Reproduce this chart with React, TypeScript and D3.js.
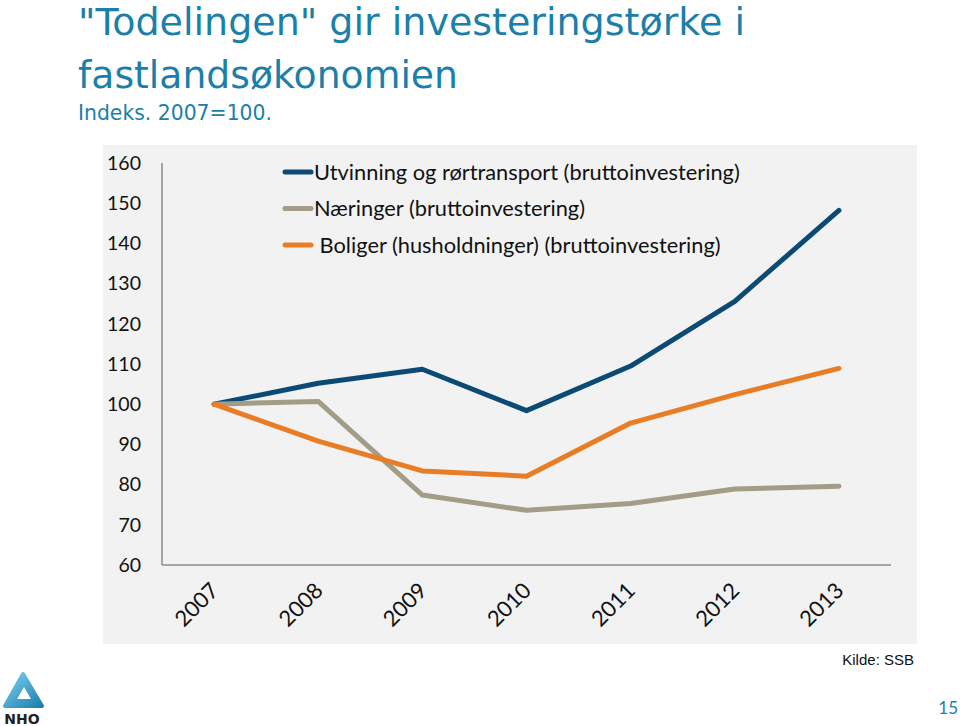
import * as React from "react";
import * as d3 from "d3";

const years = ["2007", "2008", "2009", "2010", "2011", "2012", "2013"];
const utvinning = [100, 105.2, 108.7, 98.4, 109.5, 125.6, 148.2];
const naeringer = [100, 100.7, 77.4, 73.6, 75.3, 78.9, 79.6];
const boliger = [100, 90.8, 83.4, 82.1, 95.3, 102.4, 108.9];
const yTicks = [60, 70, 80, 90, 100, 110, 120, 130, 140, 150, 160];

const seriesNames = [
  "Utvinning og rørtransport (bruttoinvestering)",
  "Næringer (bruttoinvestering)",
  " Boliger (husholdninger) (bruttoinvestering)",
];
const seriesColors = ["#0b4a74", "#a39c87", "#e87d25"];

const W = 960;
const H = 726;
const plotLeft = 162;
const plotRight = 891;
const plotTop = 163;
const plotBottom = 565;
const labelFont = "Lato, 'Noto Sans', sans-serif";

const App: React.FC = () => {
  const x = d3.scaleBand().domain(years).range([plotLeft, plotRight]).padding(0);
  const y = d3.scaleLinear().domain([60, 160]).range([plotBottom, plotTop]);
  const cx = (yr: string) => (x(yr) as number) + x.bandwidth() / 2;

  const line = d3
    .line<number>()
    .x((_, i) => cx(years[i]))
    .y((d) => y(d));

  const allSeries = [utvinning, naeringer, boliger];

  return (
    <svg
      width={W}
      height={H}
      style={{ position: "absolute", left: 0, top: 0, background: "#fff" }}
    >
      {/* title */}
      <g fill="#1b7fa9" fontFamily="Tahoma, 'DejaVu Sans', sans-serif">
        <text x={78} y={35} fontSize={37} textLength={667} lengthAdjust="spacingAndGlyphs">
          "Todelingen" gir investeringstørke i
        </text>
        <text x={78} y={88} fontSize={37} textLength={380} lengthAdjust="spacingAndGlyphs">
          fastlandsøkonomien
        </text>
        <text x={78} y={120} fontSize={21} textLength={194} lengthAdjust="spacingAndGlyphs">
          Indeks. 2007=100.
        </text>
      </g>

      {/* chart background */}
      <rect x={103} y={145} width={814} height={499} fill="#f2f2f2" />

      {/* axes */}
      <line x1={plotLeft} x2={plotLeft} y1={plotTop} y2={plotBottom} stroke="#8c8c8c" strokeWidth={1.5} />
      <line x1={plotLeft} x2={plotRight} y1={plotBottom} y2={plotBottom} stroke="#8c8c8c" strokeWidth={1.5} />

      {yTicks.map((t) => (
        <text
          key={t}
          x={141}
          y={y(t)}
          dy="0.35em"
          textAnchor="end"
          fontSize={19.5}
          fontFamily={labelFont}
          fill="#111"
        >
          {t}
        </text>
      ))}

      {years.map((yr) => (
        <text
          key={yr}
          transform={`translate(${cx(yr) + 6},${plotBottom + 27}) rotate(-45)`}
          textAnchor="end"
          fontSize={22}
          fontFamily={labelFont}
          fill="#111"
        >
          {yr}
        </text>
      ))}

      {/* series */}
      {allSeries.map((s, i) => (
        <path
          key={i}
          d={line(s) as string}
          fill="none"
          stroke={seriesColors[i]}
          strokeWidth={5}
          strokeLinejoin="round"
          strokeLinecap="round"
        />
      ))}

      {/* legend */}
      {seriesNames.map((name, i) => (
        <g key={name} transform={`translate(0,${172 + i * 36.5})`}>
          <line x1={285} x2={311} y1={0} y2={0} stroke={seriesColors[i]} strokeWidth={5} strokeLinecap="round" />
          <text
            x={314}
            y={0}
            dy="0.35em"
            fontSize={21.8}
            fontFamily={labelFont}
            fill="#111"
            style={{ whiteSpace: "pre" }}
          >
            {name}
          </text>
        </g>
      ))}

      {/* source and page */}
      <text x={914} y={665} textAnchor="end" fontSize={15} fontFamily="'Liberation Sans', Arial, sans-serif" fill="#111">
        Kilde: SSB
      </text>
      <text x={958} y={714} textAnchor="end" fontSize={17} fontFamily={labelFont} fill="#1b7fa9">
        15
      </text>

      {/* logo */}
      <defs>
        <linearGradient id="nho" x1="0" y1="0" x2="1" y2="1">
          <stop offset="0" stopColor="#7fd0ee" />
          <stop offset="1" stopColor="#1a7fb0" />
        </linearGradient>
      </defs>
      <path d="M23,674 L42,706 L5,706 Z" fill="url(#nho)" stroke="url(#nho)" strokeWidth={4} strokeLinejoin="round" />
      <path d="M24,687 L31,699 L17,699 Z" fill="#fff" />
      <text x={22} y={724} textAnchor="middle" fontSize={14} fontWeight="bold" fontFamily="'DejaVu Sans', sans-serif" fill="#222">
        NHO
      </text>
    </svg>
  );
};

export default App;
